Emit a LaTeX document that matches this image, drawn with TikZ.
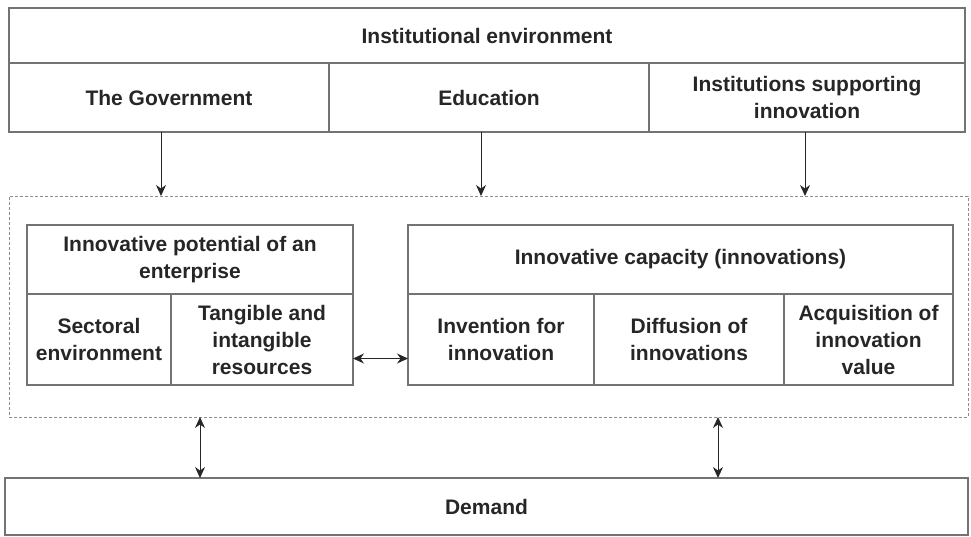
\documentclass[tikz,border=0pt]{standalone}
\usepackage{fontspec}
\setmainfont{Liberation Sans}
\usetikzlibrary{positioning}
\usetikzlibrary{arrows.meta}

\begin{document}
\begin{tikzpicture}[->,>={Stealth[length=11pt,width=10pt]},x=1pt,y=-1pt,node distance=0pt,font=\fontsize{21}{27}\selectfont\bfseries]
\tikzstyle{v}=[rectangle,draw=black!55,line width=1.6pt,text=black!85,align=center,inner sep=0pt,outer sep=0pt]
\tikzstyle{a}=[black!85,line width=1pt]
\useasboundingbox (0,0) rectangle (971,536);
% institutional environment
\node[v, minimum width=956pt, minimum height=55pt, anchor=north west]	(IE)	at (9,8)	{Institutional environment};
\node[v, minimum width=320pt, minimum height=69pt, anchor=north west]	(Gov)	at (IE.south west)	{The Government};
\node[v, minimum width=320pt, minimum height=69pt]	(Edu)	[right = of Gov]	{Education};
\node[v, minimum width=316pt, minimum height=69pt]	(Sup)	[right = of Edu]	{Institutions supporting\\innovation};
% enterprise
\node[draw=black!45, line width=1pt, dash pattern=on 3pt off 2pt, minimum width=959pt, minimum height=221pt, anchor=north west, inner sep=0pt, outer sep=0pt]	(Inner)	at (9,196)	{};
\node[v, minimum width=326pt, minimum height=69pt, anchor=north west]	(Pot)	at (27,225)	{Innovative potential of an\\enterprise};
\node[v, minimum width=144pt, minimum height=91pt, anchor=north west]	(Sec)	at (Pot.south west)	{Sectoral\\environment};
\node[v, minimum width=182pt, minimum height=91pt]	(Res)	[right = of Sec]	{Tangible and\\intangible\\resources};
\node[v, minimum width=545pt, minimum height=69pt, anchor=north west]	(Cap)	at (408,225)	{Innovative capacity (innovations)};
\node[v, minimum width=186pt, minimum height=91pt, anchor=north west]	(Inv)	at (Cap.south west)	{Invention for\\innovation};
\node[v, minimum width=190pt, minimum height=91pt]	(Dif)	[right = of Inv]	{Diffusion of\\innovations};
\node[v, minimum width=169pt, minimum height=91pt]	(Acq)	[right = of Dif]	{Acquisition of\\innovation\\value};
% demand
\node[v, minimum width=963pt, minimum height=57pt, anchor=north west]	(Dem)	at (5,478)	{Demand};
\draw[a] ([xshift=-8pt]Gov.south) -- ([xshift=-8pt]Gov.south |- Inner.north);
\draw[a] ([xshift=-8pt]Edu.south) -- ([xshift=-8pt]Edu.south |- Inner.north);
\draw[a] ([xshift=-2pt]Sup.south) -- ([xshift=-2pt]Sup.south |- Inner.north);
\draw[a,<->] ([yshift=-19pt]Res.east) -- ([yshift=-19pt]Inv.west);
\draw[a,<->] ([xshift=195pt]Dem.north west |- Inner.south) -- ([xshift=195pt]Dem.north west);
\draw[a,<->] ([xshift=713pt]Dem.north west |- Inner.south) -- ([xshift=713pt]Dem.north west);
\end{tikzpicture}
\end{document}
